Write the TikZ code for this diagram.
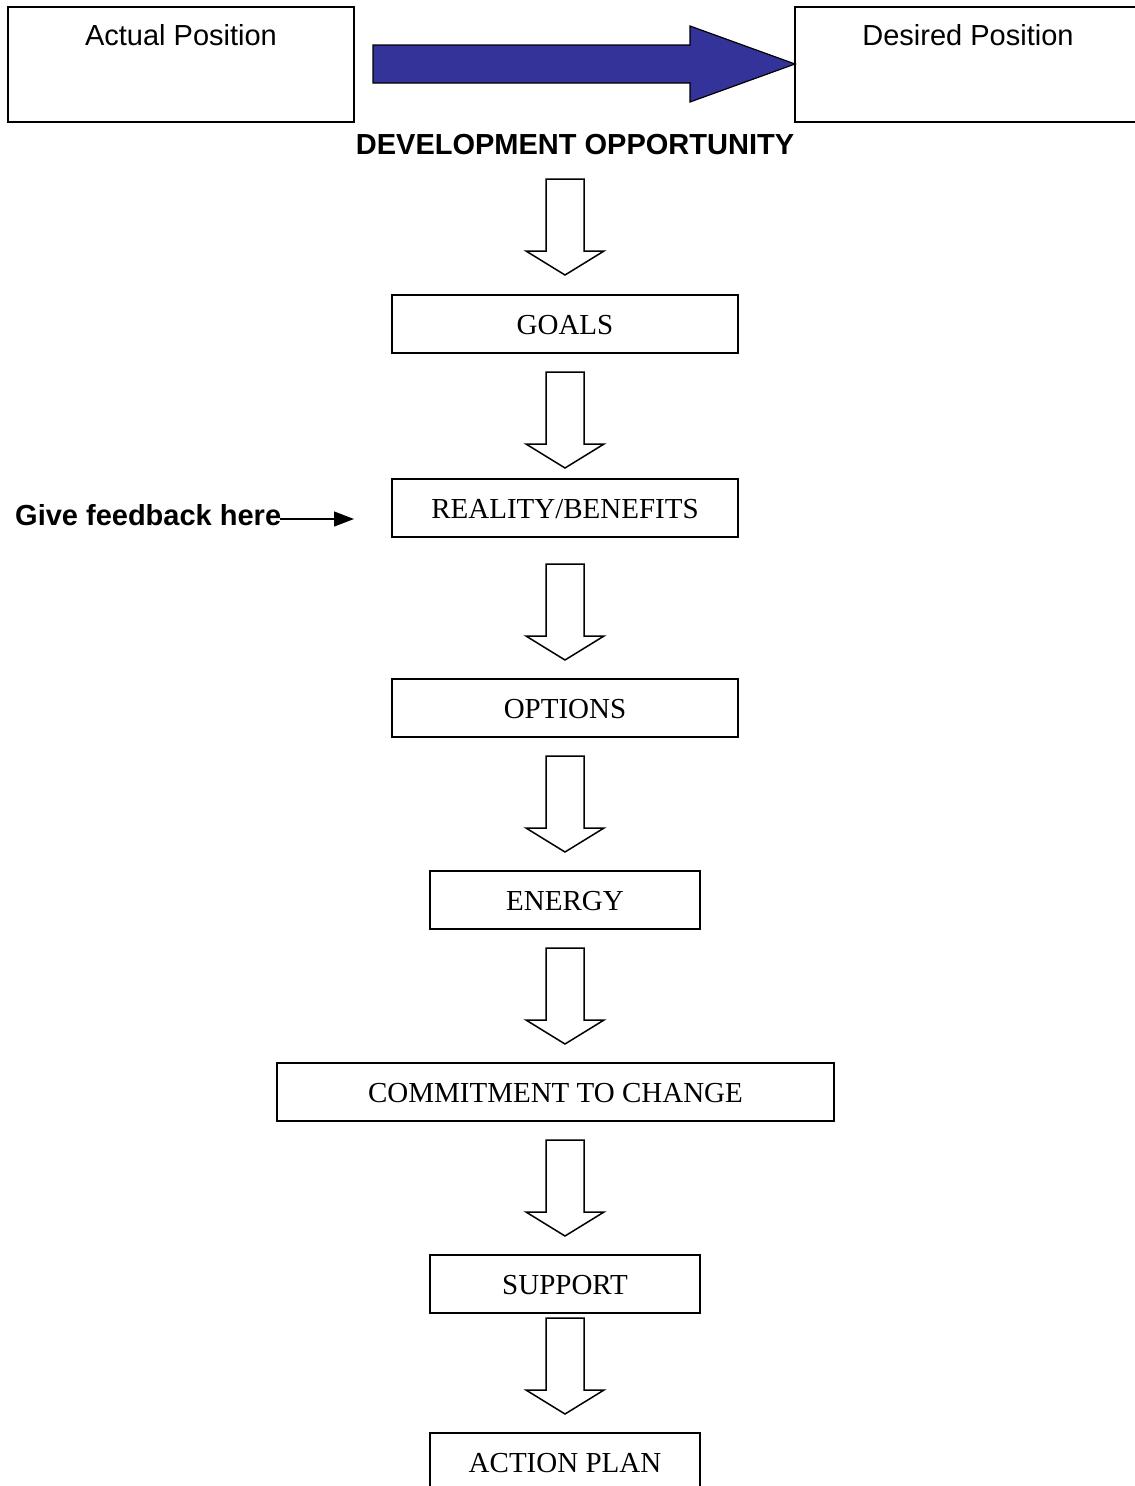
\documentclass[tikz,border=0pt]{standalone}
\usepackage{fontspec}
\setmainfont{Liberation Serif}
\setsansfont{Liberation Sans}
\usetikzlibrary{arrows.meta}
\definecolor{arrowblue}{HTML}{333399}
\begin{document}
\begin{tikzpicture}[x=1pt,y=-1pt,
  flowbox/.style={draw=black, line width=1.5pt, inner sep=0pt, minimum height=58pt,
    text height=20pt, text depth=0pt, font=\fontsize{29}{34}\selectfont},
  posbox/.style={draw=black, line width=1.5pt, inner sep=0pt, minimum width=346pt, minimum height=115pt},
  sanstext/.style={inner sep=0pt, font=\sffamily\fontsize{29}{34}\selectfont},
  boldtext/.style={inner sep=0pt, font=\sffamily\bfseries\fontsize{29}{34}\selectfont},
  hollow/.style={draw=black, fill=white, line width=1.5pt, line join=miter},
  downarr/.pic={\draw[hollow] (-19,0) -- (19,0) -- (19,72) -- (39,72) -- (0,96) -- (-39,72) -- (-19,72) -- cycle;}
]
\clip (0,0) rectangle (1135,1486);
\fill[white] (0,0) rectangle (1135,1486);

% top position boxes
\node[posbox] (actual) at (181,64.5) {};
\node[posbox] (desired) at (968,64.5) {};
\node[sanstext, anchor=base] (actualtxt) at (181,45) {Actual Position};
\node[sanstext, anchor=base] (desiredtxt) at (968,45) {Desired Position};

% big blue arrow
\draw[fill=arrowblue, draw=black, line width=1.2pt, line join=miter]
  (373,45) -- (690,45) -- (690,26) -- (795,64) -- (690,102) -- (690,83) -- (373,83) -- cycle;

\node[boldtext, anchor=base] (devopp) at (575,154) {DEVELOPMENT OPPORTUNITY};

% flow boxes
\node[flowbox, minimum width=346pt] (goals) at (565,324) {GOALS};
\node[flowbox, minimum width=346pt] (reality) at (565,508) {REALITY/BENEFITS};
\node[flowbox, minimum width=346pt] (options) at (565,708) {OPTIONS};
\node[flowbox, minimum width=270pt] (energy) at (565,900) {ENERGY};
\node[flowbox, minimum width=557pt] (commit) at (555.5,1092) {COMMITMENT TO CHANGE};
\node[flowbox, minimum width=270pt] (support) at (565,1284) {SUPPORT};
\node[flowbox, minimum width=270pt] (action) at (565,1462) {ACTION PLAN};

% hollow down arrows
\pic at (565,179) {downarr};
\pic at (565,372) {downarr};
\pic at (565,564) {downarr};
\pic at (565,756) {downarr};
\pic at (565,948) {downarr};
\pic at (565,1140) {downarr};
\pic at (565,1318) {downarr};

% feedback label and arrow
\node[boldtext, anchor=base west] (feedback) at (15,525) {Give feedback here};
\coordinate (fbstart) at (280,519);
\coordinate (fbtip) at (354,519);
\draw[line width=1.3pt, -{Triangle[length=20pt,width=15pt]}] (fbstart) -- (fbtip);
\end{tikzpicture}
\end{document}
